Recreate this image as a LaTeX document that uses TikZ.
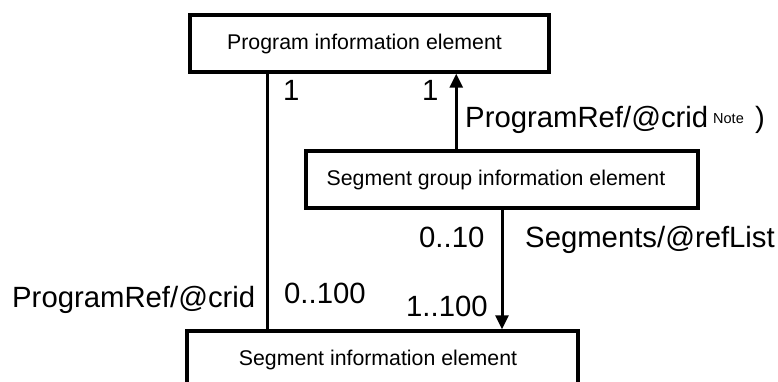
\documentclass[tikz,border=0pt]{standalone}
\usepackage{fontspec}
\setmainfont{Liberation Sans}
\usetikzlibrary{arrows.meta}
\begin{document}
\begin{tikzpicture}[x=1pt,y=-1pt,
  box/.style={draw=black,line width=3.5pt,fill=white,inner sep=0pt,
    font=\fontsize{21.3}{25}\selectfont},
  conn/.style={draw=black,line width=3pt},
  arr/.style={conn,-{Triangle[length=14pt,width=13pt]}},
  lbl/.style={anchor=base west,inner sep=0pt,font=\fontsize{29.3}{34}\selectfont},
  note/.style={anchor=base west,inner sep=0pt,font=\fontsize{14.5}{17}\selectfont}]
\useasboundingbox (0,0) rectangle (778,382);
\clip (0,0) rectangle (778,382);
\fill[white] (0,0) rectangle (778,382);

\node[box,minimum width=359pt,minimum height=57pt] (prog) at (369.5,43.5) {\hspace*{-10pt}Program information element};
\node[box,minimum width=392pt,minimum height=57pt] (segg) at (502,179.5) {\hspace*{-12pt}Segment group information element};
\node[box,minimum width=391pt,minimum height=57pt] (seg) at (382.5,359.5) {\hspace*{-9pt}Segment information element};

\draw[conn] ([xshift=79pt]prog.south west) -- ([xshift=79pt]prog.south west |- seg.north);
\draw[arr] ([xshift=152pt]segg.north west) -- ([xshift=152pt]segg.north west |- prog.south);
\draw[arr] (segg.south) -- (segg.south |- seg.north);

\node[lbl] (l1) at (283,101) {1};
\node[lbl] (l2) at (422,101) {1};
\node[lbl] (l3) at (465,128) {ProgramRef/@crid};
\node[note] (l4) at (713,124) {Note};
\node[lbl] (l5) at (755,128) {)};
\node[lbl] (l6) at (419,247) {0..10};
\node[lbl] (l7) at (525,247) {Segments/@refList};
\node[lbl] (l8) at (12,307) {ProgramRef/@crid};
\node[lbl] (l9) at (284,303) {0..100};
\node[lbl] (l10) at (406,316) {1..100};
\end{tikzpicture}
\end{document}
